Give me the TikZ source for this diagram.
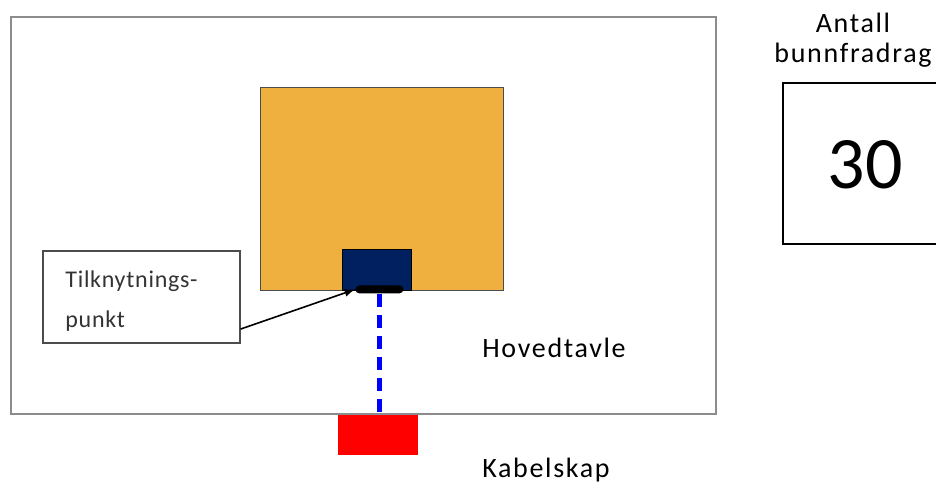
\documentclass[tikz,border=0pt]{standalone}
\usepackage{fontspec}
\setmainfont{Carlito}
\usetikzlibrary{positioning}

\definecolor{tavleorange}{RGB}{240,176,64}
\definecolor{punktblue}{RGB}{0,32,96}
\definecolor{rammegray}{RGB}{140,140,140}
\definecolor{kabelred}{RGB}{255,0,0}

\begin{document}
\begin{tikzpicture}[> = latex, x = 0.5pt, y = -0.5pt]

	% Definition

	\def\u{0.5pt};

	\tikzset{
		flate/.style = {rectangle, inner sep = 0pt, anchor = north west},
		tekst/.style = {font = \fontsize{14}{15}\selectfont\addfontfeature{LetterSpace = 6}, inner sep = 0pt}
	}

	\useasboundingbox (0, 0) rectangle (936, 483);

	% Hovedtavle with board and connection point

	\node [flate, draw = rammegray, line width = 1pt, minimum width = {705 * \u}, minimum height = {397 * \u}] (ramme) at (10, 16) {};
	\node [flate, draw = black!70, fill = tavleorange, line width = 0.7pt, minimum width = {243 * \u}, minimum height = {203 * \u}] (tavle) at (260, 87) {};
	\node [flate, draw = black, fill = punktblue, line width = 0.7pt, minimum width = {69 * \u}, minimum height = {41 * \u}] (boks) at (342, 249) {};
	\node [flate, fill = black, rounded corners = 2pt, minimum width = {48 * \u}, minimum height = {8 * \u}] (punkt) at (355, 285) {};

	% Kabelskap and cable

	\node [flate, fill = kabelred, minimum width = {80 * \u}, minimum height = {40 * \u}] (skap) at (338, 415) {};
	\draw [blue, line width = 2.5pt, dash pattern = on 6.5pt off 4pt] (punkt.south) -- (punkt.south |- skap.north);

	% Label with arrow

	\node [flate, draw = black!70, line width = 0.8pt, minimum width = {197 * \u}, minimum height = {92 * \u}] (etikett) at (42, 250) {};
	\node [anchor = west, align = left, inner sep = 0pt, font = \fontsize{12}{20}\selectfont\addfontfeature{LetterSpace = 3}, text = black!80] (etiketttekst) at (65, 301) {Tilknytnings-\\punkt};
	\draw [->, line width = 0.8pt] (etikett.-18) -- (punkt.west);

	% Texts

	\node [tekst] (hovedtavle) at (554, 348) {Hovedtavle};
	\node [tekst] (kabelskap) at (546, 470) {Kabelskap};
	\node [tekst, align = center] (antall) at (853, 40) {Antall\\bunnfradrag};

	% Counter box

	\node [flate, draw = black, line width = 0.8pt, minimum width = {170 * \u}, minimum height = {161 * \u}] (teller) at (782, 82) {};
	\node [inner sep = 0pt, font = \fontsize{37}{37}\selectfont] (antalltall) at (865, 165) {30};

\end{tikzpicture}
\end{document}
